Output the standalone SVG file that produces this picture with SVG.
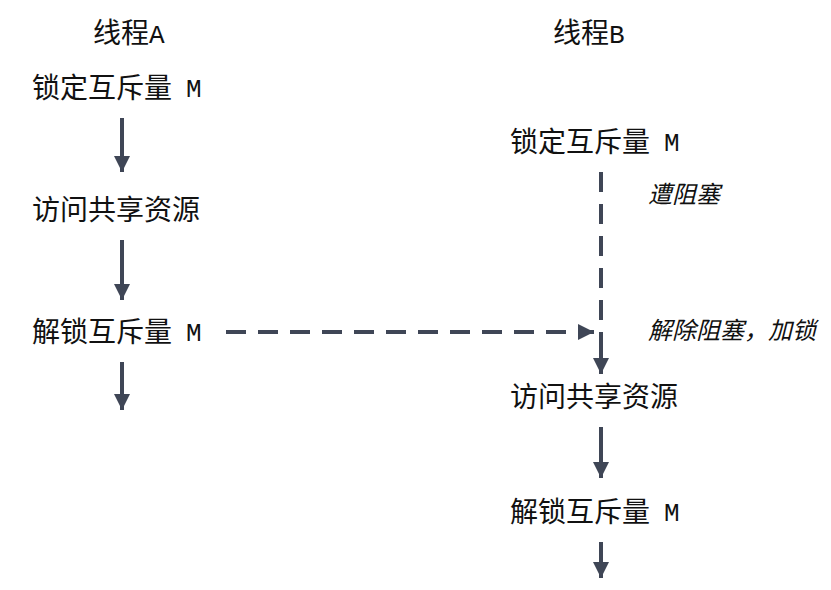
<svg xmlns="http://www.w3.org/2000/svg" width="831" height="590" viewBox="0 0 831 590">
<style>
.t{font-family:"Noto Sans CJK SC","Noto Sans",sans-serif;font-size:28px;fill:#111}
.m{font-family:"Liberation Mono",monospace;font-size:26px;fill:#111}
.i{font-family:"Noto Sans CJK SC","Noto Sans",sans-serif;font-size:24px;font-style:italic;fill:#111}
.c{stroke:#3f4656;stroke-width:4;fill:none}
.d{stroke-dasharray:20 12}
</style>
<defs>
<marker id="ah" markerUnits="userSpaceOnUse" markerWidth="16" markerHeight="16" refX="14" refY="7" orient="auto" viewBox="0 0 14 14">
<path d="M0,0 L14,7 L0,14 Z" fill="#3f4656"/>
</marker>
</defs>
<g id="titleA"><text class="t" x="93" y="43">线程<tspan class="m">A</tspan></text></g>
<g id="titleB"><text class="t" x="553" y="43">线程<tspan class="m">B</tspan></text></g>
<g id="a1"><text class="t" x="32" y="98">锁定互斥量</text><text class="m" x="186" y="97">M</text></g>
<g id="a2"><text class="t" x="32" y="220">访问共享资源</text></g>
<g id="a3"><text class="t" x="32" y="342">解锁互斥量</text><text class="m" x="186" y="341">M</text></g>
<g id="b1"><text class="t" x="510" y="152">锁定互斥量</text><text class="m" x="664" y="151">M</text></g>
<g id="b2"><text class="t" x="510" y="407">访问共享资源</text></g>
<g id="b3"><text class="t" x="510" y="522">解锁互斥量</text><text class="m" x="664" y="521">M</text></g>
<g id="lbl1"><text class="i" x="648" y="203">遭阻塞</text></g>
<g id="lbl2"><text class="i" x="648" y="339">解除阻塞，加锁</text></g>
<g id="connectors">
<line class="c" x1="122" y1="118" x2="122" y2="172" marker-end="url(#ah)"/>
<line class="c" x1="122" y1="240" x2="122" y2="300" marker-end="url(#ah)"/>
<line class="c" x1="122" y1="362" x2="122" y2="410" marker-end="url(#ah)"/>
<line class="c d" x1="226" y1="332" x2="594" y2="332" marker-end="url(#ah)"/>
<line class="c d" x1="601" y1="172" x2="601" y2="322"/>
<line class="c" x1="601" y1="332" x2="601" y2="374" marker-end="url(#ah)"/>
<line class="c" x1="601" y1="427" x2="601" y2="478" marker-end="url(#ah)"/>
<line class="c" x1="601" y1="542" x2="601" y2="578" marker-end="url(#ah)"/>
</g>
</svg>
